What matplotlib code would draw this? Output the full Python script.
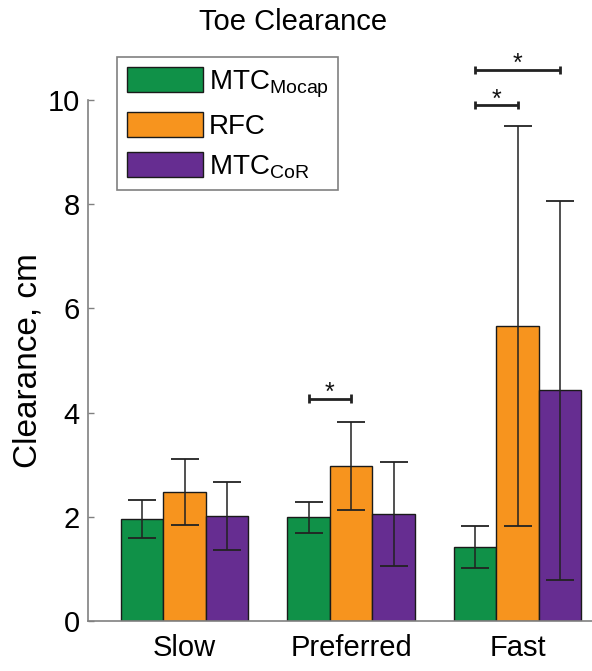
import numpy as np
import matplotlib
matplotlib.use("Agg")
import matplotlib.pyplot as plt

plt.rcParams['font.family'] = ['Liberation Sans', 'DejaVu Sans']
plt.rcParams['mathtext.fontset'] = 'custom'
plt.rcParams['mathtext.rm'] = 'Liberation Sans'

speeds = ["Slow", "Preferred", "Fast"]
series = [r"MTC$_{\mathregular{Mocap}}$", "RFC", r"MTC$_{\mathregular{CoR}}$"]
mtc_mocap_mean = [1.96, 1.99, 1.42]
mtc_mocap_sd = [0.37, 0.30, 0.41]
rfc_mean = [2.47, 2.97, 5.66]
rfc_sd = [0.63, 0.84, 3.84]
mtc_cor_mean = [2.01, 2.05, 4.43]
mtc_cor_sd = [0.65, 1.00, 3.64]
colors = ["#109148", "#F7941E", "#662D91"]

# significance brackets: (group index, series a, series b, height)
sig_pairs = [(1, 0, 1, 4.27), (2, 0, 1, 9.9), (2, 0, 2, 10.58)]

means = [mtc_mocap_mean, rfc_mean, mtc_cor_mean]
sds = [mtc_mocap_sd, rfc_sd, mtc_cor_sd]

W, H = 592, 671
fig = plt.figure(figsize=(W / 100, H / 100), dpi=100)
x0, x1 = 0.42, 3.58
px_per_unit = 166.5
ax_w = (x1 - x0) * px_per_unit / W
ax = fig.add_axes([88 / W, 50 / H, ax_w, 521 / H])

x = np.arange(1, len(speeds) + 1)
bw = 0.255
offsets = [-bw, 0, bw]
handles = []
for i in range(3):
    b = ax.bar(x + offsets[i], means[i], width=bw, color=colors[i],
               edgecolor="#1a1a1a", linewidth=1.0, zorder=2)
    handles.append(b)
    ax.errorbar(x + offsets[i], means[i], yerr=sds[i], fmt="none",
                ecolor="#222222", elinewidth=1.1, capsize=10, capthick=1.3,
                zorder=3)

for g, a, b2, h in sig_pairs:
    xa = x[g] + offsets[a]
    xb = x[g] + offsets[b2]
    ax.plot([xa, xb], [h, h], color="#222222", lw=2.0, clip_on=False,
            solid_capstyle="butt", zorder=4)
    for xe in (xa, xb):
        ax.plot([xe, xe], [h - 0.08, h + 0.08], color="#222222", lw=2.0,
                clip_on=False, solid_capstyle="butt", zorder=4)
    ax.text((xa + xb) / 2, h - 0.12, "*", ha="center", va="bottom",
            fontsize=18, color="#111111", clip_on=False)

ax.set_xlim(x0, x1)
ax.set_ylim(0, 10)
ax.set_yticks([0, 2, 4, 6, 8, 10])
ax.set_xticks(x)
ax.set_xticklabels(speeds)
ax.tick_params(axis="y", direction="in", length=4, width=1, color="#808080",
               labelsize=21, pad=6)
ax.tick_params(axis="x", length=0, labelsize=21, pad=9)
for s in ("top", "right"):
    ax.spines[s].set_visible(False)
for s in ("left", "bottom"):
    ax.spines[s].set_color("#808080")
    ax.spines[s].set_linewidth(1.2)
ax.set_ylabel("Clearance, cm", fontsize=24, labelpad=3)

fig.text(293 / W, 1 - 22 / H, "Toe Clearance", ha="center", va="center",
         fontsize=21)

leg = ax.legend(handles, series, loc="upper left",
                bbox_to_anchor=(117 / W, 1 - 57 / H), bbox_transform=fig.transFigure,
                fontsize=20, frameon=True, fancybox=False, framealpha=1,
                edgecolor="#808080", handlelength=2.75, handleheight=1.05,
                handletextpad=0.2, labelspacing=0.42, borderpad=0.35,
                borderaxespad=0)
leg.get_frame().set_linewidth(1.2)

fig.savefig("out.png", dpi=100)
